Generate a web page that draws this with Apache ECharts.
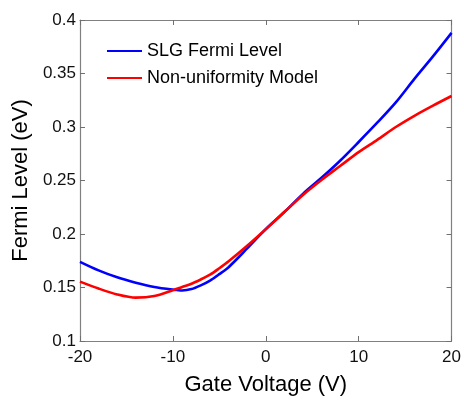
<!DOCTYPE html>
<html><head><meta charset="utf-8">
<script src="https://cdn.jsdelivr.net/npm/echarts@6/dist/echarts.min.js"></script>
<style>html,body{margin:0;padding:0;background:#fff}#c{width:464px;height:401px}</style>
</head><body><div id="c"></div>
<script>
var gateVoltage = [-20,-18,-16,-14,-12,-10,-9,-8,-7,-6,-5,-4,-2,0,2,4,6,8,10,12,14,16,18,20];
var slgFermi   = [0.174,0.166,0.1595,0.1545,0.1505,0.148,0.1472,0.1485,0.152,0.1565,0.1625,0.169,0.1865,0.2045,0.2205,0.2375,0.2525,0.2685,0.286,0.304,0.323,0.345,0.366,0.388];
var nonUniform = [0.1555,0.149,0.1435,0.1405,0.142,0.1475,0.1505,0.1535,0.1575,0.162,0.168,0.1745,0.189,0.2045,0.2205,0.2365,0.2505,0.2635,0.2765,0.288,0.300,0.3105,0.320,0.329];
var seriesNames = ['SLG Fermi Level','Non-uniformity Model'];
var xTicks = [-20,-10,0,10,20];
var yTicks = [0.1,0.15,0.2,0.25,0.3,0.35,0.4];

function pairs(ys){return gateVoltage.map(function(x,i){return [x,ys[i]];});}
var font = 'Liberation Sans, Arial, sans-serif';
var axisLine = {show:true,onZero:false,lineStyle:{color:'#808080',width:1.2}};
var tick = {show:true,inside:true,length:5,lineStyle:{color:'#707070'}};
var chart = echarts.init(document.getElementById('c'));
chart.setOption({
  animation:false,
  backgroundColor:'#fff',
  grid:{left:80,right:11,top:20,bottom:49,containLabel:false},
  legend:{
    orient:'vertical',left:102,top:37,itemWidth:35,itemHeight:14,itemGap:9,
    icon:'path://M0,6L35,6L35,8L0,8Z',
    textStyle:{fontFamily:font,fontSize:18,color:'#000'},
    data:[{name:seriesNames[0],itemStyle:{color:'#0000ff'}},{name:seriesNames[1],itemStyle:{color:'#ff0000'}}]
  },
  xAxis:[{
    type:'value',min:-20,max:20,interval:10,
    axisLine:axisLine,axisTick:tick,splitLine:{show:false},
    axisLabel:{fontFamily:font,fontSize:17,color:'#111',margin:8,
      formatter:function(v){return xTicks.indexOf(v)>=0?String(v):'';}},
    name:'Gate Voltage (V)',nameLocation:'middle',nameGap:33,
    nameTextStyle:{fontFamily:font,fontSize:22,color:'#000'}
  },{
    type:'value',position:'top',min:-20,max:20,interval:10,
    axisLine:axisLine,axisTick:tick,axisLabel:{show:false},splitLine:{show:false}
  }],
  yAxis:[{
    type:'value',min:0.1,max:0.4,interval:0.05,
    axisLine:axisLine,axisTick:tick,splitLine:{show:false},
    axisLabel:{fontFamily:font,fontSize:17,color:'#111',margin:4,
      formatter:function(v){var r=Math.round(v*100)/100;return String(r);}},
    name:'Fermi Level (eV)',nameLocation:'middle',nameGap:46,
    nameTextStyle:{fontFamily:font,fontSize:22,color:'#000'}
  },{
    type:'value',position:'right',min:0.1,max:0.4,interval:0.05,
    axisLine:axisLine,axisTick:tick,axisLabel:{show:false},splitLine:{show:false}
  }],
  series:[
    {name:seriesNames[0],type:'line',data:pairs(slgFermi),smooth:0.3,symbol:'none',
     lineStyle:{color:'#0000ff',width:2.6},itemStyle:{color:'#0000ff'},z:2},
    {name:seriesNames[1],type:'line',data:pairs(nonUniform),smooth:0.3,symbol:'none',
     lineStyle:{color:'#ff0000',width:2.6},itemStyle:{color:'#ff0000'},z:3}
  ]
});
</script></body></html>
